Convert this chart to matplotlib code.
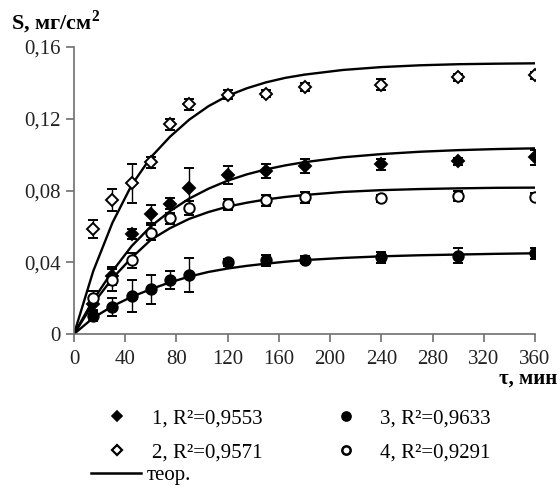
import matplotlib
matplotlib.use("Agg")
import matplotlib.pyplot as plt
from matplotlib.lines import Line2D

plt.rcParams['font.family'] = ['Liberation Serif', 'DejaVu Serif']
plt.rcParams['mathtext.fontset'] = 'custom'
plt.rcParams['mathtext.rm'] = 'Liberation Serif'
plt.rcParams['mathtext.bf'] = 'Liberation Serif:bold'

# experimental points
t = [15, 30, 45, 60, 75, 90, 120, 150, 180, 240, 300, 360]
s1 = [0.0166, 0.0325, 0.0557, 0.067, 0.0726, 0.0816, 0.0885, 0.0907, 0.0935, 0.0947, 0.0962, 0.0984]
s1_err = [0.003, 0.005, 0.003, 0.005, 0.003, 0.011, 0.005, 0.004, 0.004, 0.003, 0.002, 0.004]
s2 = [0.0586, 0.0747, 0.084, 0.0957, 0.117, 0.128, 0.1333, 0.1339, 0.1377, 0.139, 0.143, 0.1443]
s2_err = [0.005, 0.006, 0.011, 0.003, 0.003, 0.003, 0.0025, 0.002, 0.002, 0.003, 0.002, 0.002]
s3 = [0.010, 0.015, 0.021, 0.025, 0.030, 0.033, 0.040, 0.041, 0.0415, 0.0428, 0.0437, 0.045]
s3_err = [0.003, 0.005, 0.009, 0.008, 0.005, 0.0095, 0.002, 0.003, 0.002, 0.003, 0.004, 0.003]
s4 = [0.020, 0.030, 0.041, 0.0565, 0.0645, 0.0704, 0.0723, 0.0745, 0.0763, 0.0756, 0.0769, 0.0765]
s4_err = [0.004, 0.006, 0.004, 0.004, 0.003, 0.004, 0.003, 0.003, 0.003, 0.002, 0.003, 0.002]

# theoretical curves
tt = [0, 15, 30, 45, 60, 75, 90, 105, 120, 135, 150, 165, 180, 210, 240, 270, 300, 330, 360]
c1 = [0, 0.019, 0.035, 0.049, 0.060, 0.0685, 0.0755, 0.081, 0.0855, 0.089, 0.0918, 0.094, 0.0958,
      0.0985, 0.1003, 0.1016, 0.1025, 0.1031, 0.1035]
c2 = [0, 0.035, 0.062, 0.083, 0.0985, 0.110, 0.1195, 0.127, 0.1328, 0.137, 0.1403, 0.1428, 0.1446,
      0.1472, 0.1488, 0.1498, 0.1504, 0.1507, 0.1509]
c3 = [0, 0.009, 0.0155, 0.0207, 0.025, 0.0288, 0.032, 0.0346, 0.0365, 0.038, 0.0392, 0.0403, 0.0412,
      0.0424, 0.0433, 0.0439, 0.0443, 0.0447, 0.045]
c4 = [0, 0.017, 0.031, 0.0425, 0.0525, 0.059, 0.0642, 0.068, 0.071, 0.0732, 0.075, 0.0764, 0.0775,
      0.0792, 0.0802, 0.0808, 0.0812, 0.0815, 0.0816]

labels = ["1, R²=0,9553", "2, R²=0,9571", "3, R²=0,9633", "4, R²=0,9291"]
xticks = [0, 40, 80, 120, 160, 200, 240, 280, 320, 360]
yticks = [0, 0.04, 0.08, 0.12, 0.16]
yticklabels = ["0", "0,04", "0,08", "0,12", "0,16"]

fig = plt.figure(figsize=(5.6, 4.86), dpi=100)
ax = fig.add_axes([74 / 560, 1 - 334 / 486, 461 / 560, 287 / 486])

for c in (c1, c2, c3, c4):
    ax.plot(tt, c, color="black", lw=1.7, zorder=2)

eb = dict(ls="none", ecolor="black", elinewidth=1, capsize=3.5, capthick=1,
          mec="black", mew=1.4, zorder=3)
ax.errorbar(t, s1, yerr=s1_err, marker="D", ms=6, mfc="black", **eb)
ax.errorbar(t, s2, yerr=s2_err, marker="D", ms=6, mfc="white", **eb)
ax.errorbar(t, s3, yerr=s3_err, marker="o", ms=7.5, mfc="black", **eb)
ax.errorbar(t, s4, yerr=s4_err, marker="o", ms=7.5, mfc="white", **eb)

ax.set_xlim(0, 360)
ax.set_ylim(0, 0.16)
ax.set_xticks(xticks)
ax.set_yticks(yticks)
ax.set_yticklabels(yticklabels)
for sp in ("top", "right"):
    ax.spines[sp].set_visible(False)
for sp in ("left", "bottom"):
    ax.spines[sp].set_color("#707070")
    ax.spines[sp].set_linewidth(1.2)
ax.tick_params(direction="out", length=5.5, width=1.2, color="#707070",
               labelsize=15, labelcolor="#222222", pad=4)
ax.tick_params(axis="x", pad=6)
for lab in ax.get_xticklabels() + ax.get_yticklabels():
    lab.set_fontfamily("Liberation Serif")

fig.text(11 / 560, 1 - 22 / 486, r"S, мг/см$^{\mathbf{2}}$", fontsize=16, fontweight="bold",
         va="center")
fig.text(557 / 560, 1 - 379 / 486, "τ, мин", fontsize=15, fontweight="bold",
         va="center", ha="right")

h1 = Line2D([], [], ls="none", marker="D", ms=5, mfc="black", mec="black", mew=1.2)
h2 = Line2D([], [], ls="none", marker="D", ms=5, mfc="white", mec="black", mew=1.6)
h3 = Line2D([], [], ls="none", marker="o", ms=6.5, mfc="black", mec="black", mew=1.2)
h4 = Line2D([], [], ls="none", marker="o", ms=6, mfc="white", mec="black", mew=1.8)
fig.legend([h1, h2, h3, h4], labels, ncol=2, frameon=False, fontsize=15,
           loc="upper left", bbox_to_anchor=(87 / 560, 1 - 394 / 486),
           handlelength=1.5, handletextpad=0.9, columnspacing=3.25, labelspacing=0.7,
           borderpad=0.2)
fig.legend([Line2D([], [], color="black", lw=1.8)], ["теор."], frameon=False, fontsize=15,
           loc="upper left", bbox_to_anchor=(76 / 560, 1 - 451 / 486),
           handlelength=2.4, handletextpad=0.3, borderpad=0.2)

fig.savefig("out.png", dpi=100)
